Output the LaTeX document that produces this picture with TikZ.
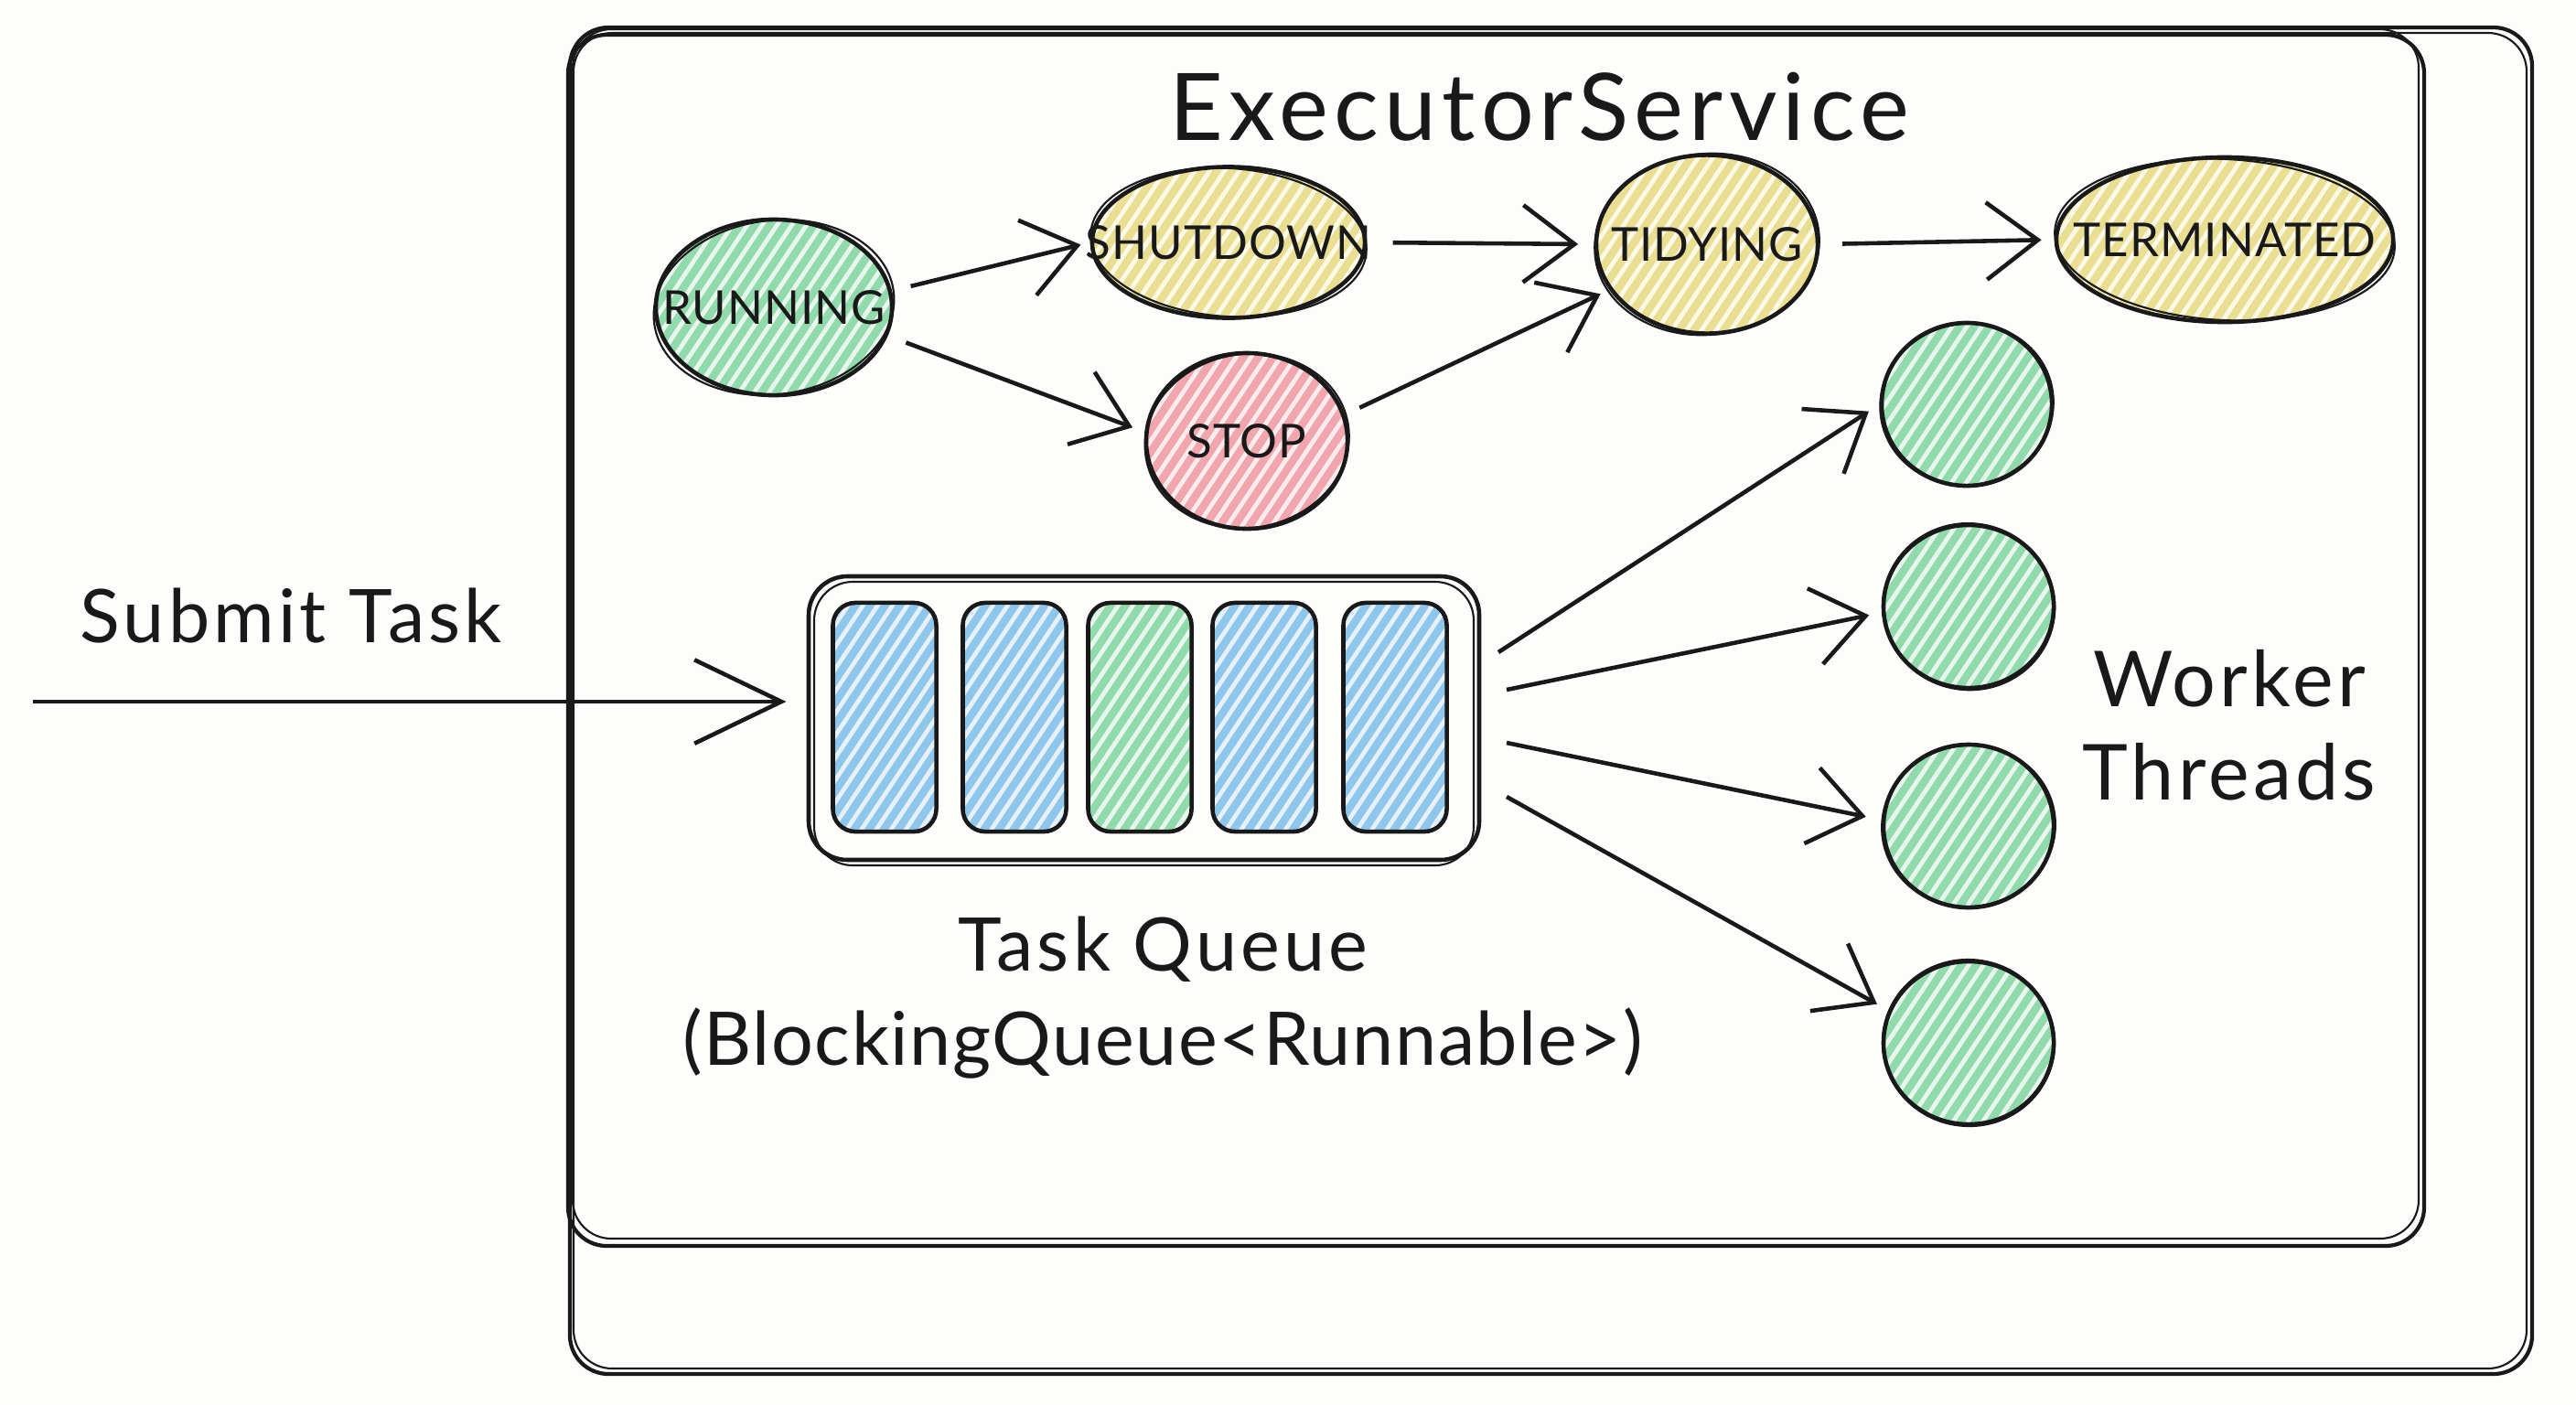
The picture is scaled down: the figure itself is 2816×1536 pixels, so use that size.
\documentclass[tikz,border=0pt]{standalone}
\usepackage{fontspec}
\setmainfont{Lato}
\usetikzlibrary{arrows.meta,shapes.geometric,calc}
\definecolor{inkc}{RGB}{25,25,25}
\definecolor{paper}{RGB}{253,253,251}
\definecolor{greenH}{RGB}{145,218,172}
\definecolor{greenB}{RGB}{232,247,237}
\definecolor{yelH}{RGB}{234,222,146}
\definecolor{yelB}{RGB}{252,249,230}
\definecolor{redH}{RGB}{240,166,172}
\definecolor{redB}{RGB}{252,236,237}
\definecolor{blueH}{RGB}{142,198,236}
\definecolor{blueB}{RGB}{230,241,250}
\tikzset{
  hatch/.style={path picture={
      \foreach \k in {-36,...,36}{
        \draw[#1,line width=2.4pt] ([xshift=\k*4.6pt]path picture bounding box.center) ++(-2.5cm,-3.75cm) -- ++(5cm,7.5cm);
      }}},
  state/.style 2 args={ellipse, draw=inkc, line width=1.3pt, fill=#2, hatch=#1,
      inner sep=0pt, text=inkc, font=\fontsize{14.5}{16}\selectfont\addfontfeature{LetterSpace=2}},
  cell/.style 2 args={rectangle, rounded corners=7pt, draw=inkc, line width=1.3pt,
      fill=#2, hatch=#1, minimum width=1.13cm, minimum height=2.5cm, inner sep=0pt},
  bigbox/.style={draw=inkc, line width=1.2pt, rounded corners=12pt},
  thinline/.style={draw=inkc, line width=0.6pt},
  label/.style={text=inkc, font=\fontsize{23}{29}\selectfont\addfontfeature{LetterSpace=5}, align=center},
  arr/.style={draw=inkc, line width=1.3pt, -{Straight Barb[length=16pt,width=24pt]}},
}
\begin{document}
\begin{tikzpicture}[x=0.01cm,y=-0.01cm]
\fill[paper] (0,0) rectangle (2816,1536);
\useasboundingbox (0,0) rectangle (2816,1536);

% outer frames
\draw[bigbox] (623,30) rectangle (2768,1502);
\draw[thinline, rounded corners=12pt] (627,36) rectangle (2762,1496);
\draw[bigbox] (621,38) rectangle (2650,1362);
\draw[thinline, rounded corners=12pt] (626,32) rectangle (2644,1354);

% title
\node[label, font=\fontsize{29}{34}\selectfont\addfontfeature{LetterSpace=6}] (title) at (1683,117) {ExecutorService};

% states
\node[state={greenH}{greenB}, minimum width=2.58cm, minimum height=1.92cm] (run) at (846,336) {\makebox[0pt]{RUNNING}};
\node[state={yelH}{yelB}, minimum width=2.98cm, minimum height=1.65cm] (shut) at (1343,265) {\makebox[0pt]{SHUTDOWN}};
\node[state={yelH}{yelB}, minimum width=2.42cm, minimum height=1.95cm] (tid) at (1866,267) {\makebox[0pt]{TIDYING}};
\node[state={yelH}{yelB}, minimum width=3.68cm, minimum height=1.80cm] (term) at (2432,262) {\makebox[0pt]{TERMINATED}};
\node[state={redH}{redB}, minimum width=2.20cm, minimum height=1.92cm] (stop) at (1363,482) {\makebox[0pt]{STOP}};

% workers
\node[state={greenH}{greenB}, minimum width=1.86cm, minimum height=1.78cm] (w1) at (2150,442) {};
\node[state={greenH}{greenB}, minimum width=1.86cm, minimum height=1.78cm] (w2) at (2152,663) {};
\node[state={greenH}{greenB}, minimum width=1.86cm, minimum height=1.78cm] (w3) at (2152,903) {};
\node[state={greenH}{greenB}, minimum width=1.86cm, minimum height=1.78cm] (w4) at (2152,1140) {};

% sketchy second strokes
\foreach \n/\rx/\ry/\a in {run/132/95/8, shut/151/81/-4, tid/123/99/6, term/186/88/-3, stop/112/95/10, w1/95/88/12, w2/94/91/-10, w3/95/88/8, w4/94/91/-6}
  \draw[thinline, rotate around={\a:(\n.center)}] (\n.center) ellipse [x radius=\rx, y radius=\ry];

% state arrows
\draw[arr, shorten <=6pt, shorten >=3pt] (run.8) -- (shut.west);
\draw[arr, shorten <=6pt, shorten >=4pt] (run.-14) -- (stop.175);
\draw[arr, shorten <=8pt, shorten >=5pt] (shut.east) -- (tid.west);
\draw[arr, shorten <=5pt, shorten >=3pt] (stop.15) -- (tid.205);
\draw[arr, shorten <=7pt, shorten >=4pt] (tid.east) -- (term.west);

% task queue
\draw[draw=inkc, line width=1.3pt, rounded corners=12pt, fill=paper] (884,630) rectangle (1617,940);
\draw[thinline, rounded corners=12pt] (890,636) rectangle (1611,946);
\node[cell={blueH}{blueB}] (c1) at (967,784) {};
\node[cell={blueH}{blueB}] (c2) at (1109,784) {};
\node[cell={greenH}{greenB}] (c3) at (1246,784) {};
\node[cell={blueH}{blueB}] (c4) at (1382,784) {};
\node[cell={blueH}{blueB}] (c5) at (1525,784) {};
\coordinate (qeast) at (1617,785);
\coordinate (qwest) at (884,785);

\node[label] (tq) at (1271,1038) {Task Queue};
\node[label, font=\fontsize{23}{29}\selectfont\addfontfeature{LetterSpace=2}] (bq) at (1271,1140) {(BlockingQueue<Runnable>)};

% submit
\node[label] (submit) at (318,673) {Submit Task};
\coordinate (src) at (36,767);
\draw[arr, -{Straight Barb[length=27pt,width=26pt]}, shorten >=7pt] (src) -- (src -| qwest);

\node[label, font=\fontsize{24}{29}\selectfont\addfontfeature{LetterSpace=5}] (wt) at (2437,793) {Worker\\Threads};

\draw[arr, shorten >=4pt] ($(qeast)+(21,-72)$) -- (w1.west);
\draw[arr, shorten >=4pt] ($(qeast)+(30,-31)$) -- (w2.184);
\draw[arr, shorten >=5pt] ($(qeast)+(30,27)$) -- (w3.176);
\draw[arr, shorten >=4pt] ($(qeast)+(30,86)$) -- (w4.158);
\end{tikzpicture}
\end{document}
